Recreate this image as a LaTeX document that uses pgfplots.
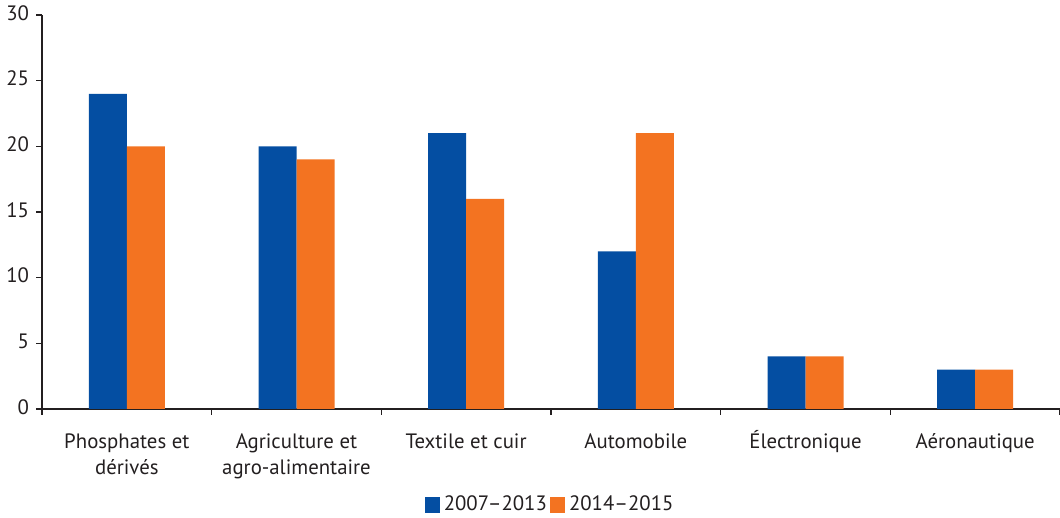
\documentclass[border=0pt]{standalone}
\usepackage{pgfplots}
\pgfplotsset{compat=1.18}
\usepackage{fontspec}
\setmainfont{PT Sans}
\definecolor{cblue}{RGB}{4,78,162}
\definecolor{corange}{RGB}{243,115,33}
\definecolor{ink}{RGB}{35,31,32}
\begin{document}
\begin{tikzpicture}
\begin{axis}[
  scale only axis,
  width=509pt, height=197pt,
  xmin=-0.5, xmax=5.5, ymin=0, ymax=30,
  axis x line*=bottom, axis y line*=left,
  axis line style={ink, line width=0.6pt},
  every tick/.style={ink, line width=0.6pt},
  tick align=outside,
  ytick={0,5,...,30},
  xtick={0,...,5},
  minor xtick={-0.5,0.5,...,5.5},
  major x tick style={draw=none},
  minor tick length=3pt,
  major tick length=3pt,
  typeset ticklabels with strut,
  xticklabels={Phosphates et\\dérivés, Agriculture et\\agro-alimentaire, Textile et cuir, Automobile, Électronique, Aéronautique},
  xticklabel style={align=center, font=\fontsize{10.4}{13}\selectfont, text=ink, yshift=-4pt},
  yticklabel style={font=\fontsize{10.4}{13}\selectfont, text=ink},
  /pgf/number format/assume math mode=true,
  ybar=0pt, bar width=19pt,
  legend style={draw=none, at={(0.5,-0.2437)}, anchor=center, legend columns=2,
    font=\fontsize{10.4}{13}\selectfont, text=ink,
    /tikz/every even column/.append style={column sep=-0.5pt}},
  legend image code/.code={\fill[#1] (0pt,-3.8pt) rectangle (7.6pt,3.8pt);},
]
\addplot[fill=cblue, draw=none] coordinates {(0,24) (1,20) (2,21) (3,12) (4,4) (5,3)};
\addplot[fill=corange, draw=none] coordinates {(0,20) (1,19) (2,16) (3,21) (4,4) (5,3)};
\legend{2007--2013, 2014--2015}
\coordinate (bl) at (axis description cs:-0.04126,-0.2766);
\coordinate (tr) at (axis description cs:1,1.038);
\end{axis}
\pgfresetboundingbox
\useasboundingbox (bl) rectangle (tr);
\end{tikzpicture}
\end{document}
